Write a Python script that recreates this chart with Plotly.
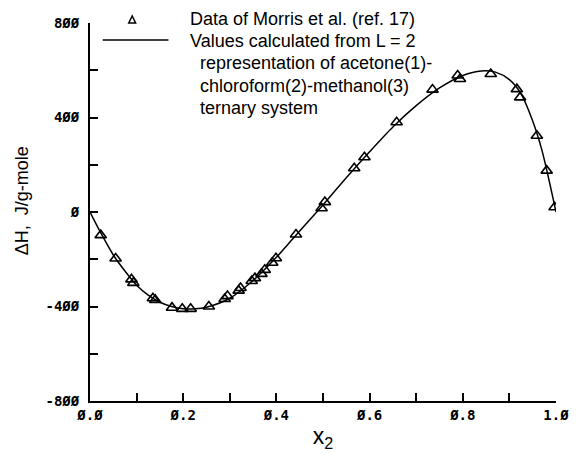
import plotly.graph_objects as go

# Experimental data (Morris et al.)
data_x2 = [0.023, 0.055, 0.089, 0.093, 0.135, 0.140, 0.176, 0.198, 0.216, 0.255,
           0.289, 0.295, 0.319, 0.323, 0.347, 0.354, 0.368, 0.375, 0.391, 0.399,
           0.442, 0.497, 0.504, 0.567, 0.589, 0.658, 0.735, 0.789, 0.794, 0.860,
           0.916, 0.923, 0.959, 0.980, 0.997]
data_dH = [-98, -197, -285, -300, -365, -372, -405, -410, -410, -400,
           -368, -356, -333, -322, -292, -280, -262, -245, -215, -196,
           -95, 16, 42, 185, 232, 380, 518, 578, 563, 584,
           520, 485, 323, 175, 20]

# Calculated curve (L = 2 representation)
calc_x2 = [0, 0.025, 0.05, 0.075, 0.1, 0.125, 0.15, 0.175, 0.2, 0.225, 0.25, 0.3,
           0.35, 0.4, 0.45, 0.5, 0.55, 0.6, 0.65, 0.7, 0.75, 0.8, 0.84, 0.87,
           0.9, 0.925, 0.95, 0.97, 0.985, 1.0]
calc_dH = [0, -95, -182, -250, -310, -352, -382, -400, -410, -410, -403, -365,
           -290, -192, -80, 30, 145, 255, 360, 450, 525, 578, 597, 592,
           560, 500, 385, 260, 135, 0]

x_ticks = [0.0, 0.1, 0.2, 0.3, 0.4, 0.5, 0.6, 0.7, 0.8, 0.9, 1.0]
x_ticktext = ["Ø.Ø", " ", "Ø.2", " ", "Ø.4", " ", "Ø.6", " ", "Ø.8", " ", "1.Ø"]
y_ticks = [-800, -600, -400, -200, 0, 200, 400, 600, 800]
y_ticktext = ["-8ØØ", " ", "-4ØØ", " ", "Ø", " ", "4ØØ", " ", "8ØØ"]

legend_lines = [
    "Data of Morris et al. (ref. 17)",
    "Values calculated from L = 2",
    "  representation of acetone(1)-",
    "  chloroform(2)-methanol(3)",
    "  ternary system",
]
y_title = "ΔH,  J/g-mole"

TXT_FONT = "Liberation Sans, Arial, sans-serif"
TICK_FONT = dict(family="DejaVu Sans Mono", size=14, color="black", weight="bold")

fig = go.Figure()
fig.add_trace(go.Scatter(x=calc_x2, y=calc_dH, mode="lines",
                         line=dict(color="black", width=1.5, shape="spline", smoothing=0.8),
                         showlegend=False, hoverinfo="skip"))
fig.add_trace(go.Scatter(x=data_x2, y=data_dH, mode="markers",
                         marker=dict(symbol="triangle-up-open", size=10, color="black",
                                     line=dict(width=1.6, color="black")),
                         showlegend=False))

# Manual legend (pixel -> paper conversion for a 90..565 x 23..401 plot box)
def px(x):
    return (x - 90) / 475.0

def py(y):
    return (401 - y) / 378.0

fig.add_shape(type="line", xref="paper", yref="paper",
              x0=px(103), x1=px(170), y0=py(40), y1=py(40),
              line=dict(color="black", width=1.5))
fig.add_shape(type="path", xref="paper", yref="paper",
              path=f"M {px(129.5)} {py(23)} L {px(136.5)} {py(23)} L {px(133)} {py(16)} Z",
              line=dict(color="black", width=1.5))

line_y = [19, 41, 63, 86, 108]
for txt, yy in zip(legend_lines, line_y):
    indent = txt.startswith("  ")
    fig.add_annotation(xref="paper", yref="paper", x=px(200 if indent else 190), y=py(yy),
                       text=txt.strip(), showarrow=False, xanchor="left", yanchor="middle",
                       font=dict(family=TXT_FONT, size=18, color="black"))

# Y axis title as rotated annotation
fig.add_annotation(xref="paper", yref="paper", x=px(21), y=py(201), text=y_title,
                   textangle=-90, showarrow=False, xanchor="center", yanchor="middle",
                   font=dict(family=TXT_FONT, size=18, color="black"))

fig.update_xaxes(range=[0, 1], tickvals=x_ticks, ticktext=x_ticktext,
                 ticks="inside", ticklen=8, tickwidth=1.5, tickcolor="black",
                 showline=True, linecolor="black", linewidth=2, showgrid=False,
                 zeroline=False, tickfont=TICK_FONT,
                 title=dict(text="x<sub>2</sub>", font=dict(family=TXT_FONT, size=23, color="black"),
                            standoff=2))
fig.update_yaxes(range=[-800, 800], tickvals=y_ticks, ticktext=y_ticktext,
                 ticks="inside", ticklen=8, tickwidth=1.5, tickcolor="black",
                 showline=True, linecolor="black", linewidth=2, showgrid=False,
                 zeroline=False, tickfont=TICK_FONT, ticklabelstandoff=6)

fig.update_layout(width=581, height=453, margin=dict(l=90, r=16, t=23, b=52),
                  plot_bgcolor="white", paper_bgcolor="white", showlegend=False,
                  font=dict(color="black"))

fig.write_html("out.html")
